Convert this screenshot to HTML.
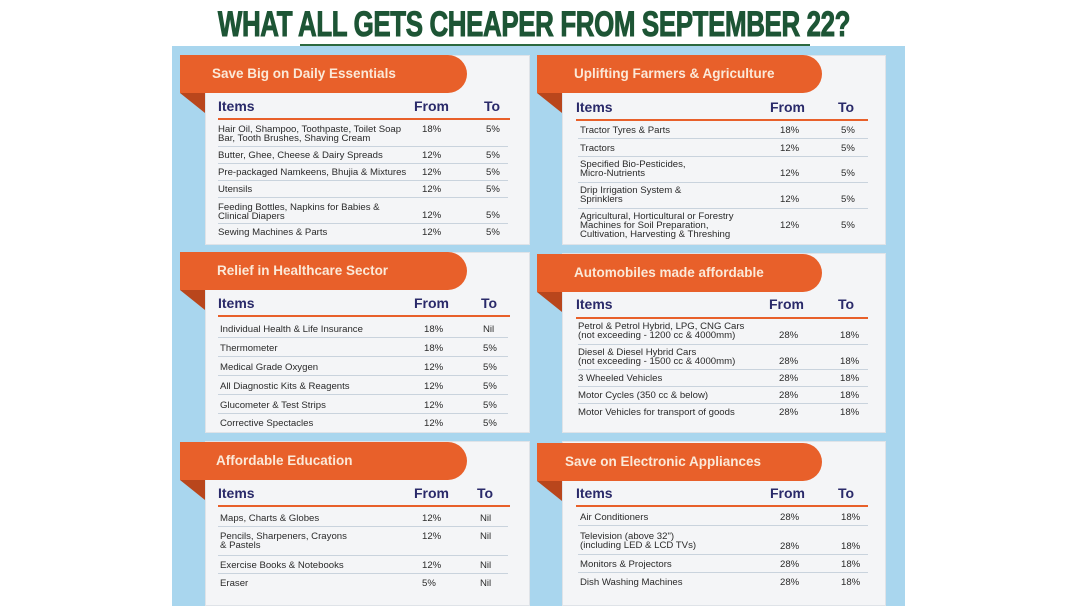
<!DOCTYPE html>
<html><head><meta charset="utf-8"><style>
*{margin:0;padding:0;box-sizing:border-box}
body{width:1068px;height:601px;background:#fff;position:relative;overflow:hidden;font-family:"Liberation Sans",sans-serif}
.a{position:absolute;white-space:nowrap}
#title{left:534px;top:5px;font-size:35px;font-weight:bold;color:#1d5535;transform:translateX(-50%) scaleX(0.74);letter-spacing:-0.5px;-webkit-text-stroke:1px #1d5535}
.panel{position:absolute;left:172px;top:46px;width:733px;height:560px;background:#a9d6ee}
.card{position:absolute;background:#f4f5f7;border:1px solid #dfe3e8}
.tab{position:absolute;height:38px;background:#e8602a;border-radius:0 19px 19px 0;color:#fbe9d8;font-weight:bold;font-size:13.5px;line-height:38px;padding-left:32px}
.fold{position:absolute;width:0;height:0;border-top:0 solid transparent;border-right:25px solid #b9461c;border-bottom:20px solid transparent}
.h{position:absolute;font-weight:bold;font-size:14px;color:#2a2a6a}
.ln{position:absolute;height:2px;background:#e8602a}
.t{position:absolute;font-size:9.6px;color:#2a2a2a;line-height:9px;white-space:nowrap}
.sep{position:absolute;height:1px;background:#c9d3dd}
</style></head><body>
<div class="a" id="title">WHAT ALL GETS CHEAPER FROM SEPTEMBER 22?</div>
<div class="a" style="left:300px;top:44px;width:510px;height:3px;background:#2c6a40"></div>
<div class="panel"></div>

<!-- cards -->
<div class="card" style="left:205px;top:55px;width:325px;height:190px"></div>
<div class="card" style="left:205px;top:252px;width:325px;height:181px"></div>
<div class="card" style="left:205px;top:441px;width:325px;height:165px"></div>
<div class="card" style="left:562px;top:55px;width:324px;height:190px"></div>
<div class="card" style="left:562px;top:253px;width:324px;height:180px"></div>
<div class="card" style="left:562px;top:441px;width:324px;height:165px"></div>

<!-- tabs -->
<div class="fold" style="left:180px;top:93px"></div>
<div class="tab" style="left:180px;top:55px;width:287px">Save Big on Daily Essentials</div>
<div class="fold" style="left:180px;top:290px"></div>
<div class="tab" style="left:180px;top:252px;width:287px;padding-left:37px">Relief in Healthcare Sector</div>
<div class="fold" style="left:180px;top:480px"></div>
<div class="tab" style="left:180px;top:442px;width:287px;padding-left:36px">Affordable Education</div>
<div class="fold" style="left:537px;top:93px"></div>
<div class="tab" style="left:537px;top:55px;width:285px;padding-left:37px">Uplifting Farmers &amp; Agriculture</div>
<div class="fold" style="left:537px;top:292px"></div>
<div class="tab" style="left:537px;top:254px;width:285px;padding-left:37px">Automobiles made affordable</div>
<div class="fold" style="left:537px;top:481px"></div>
<div class="tab" style="left:537px;top:443px;width:285px;padding-left:28px">Save on Electronic Appliances</div>

<!-- headers -->
<div class="h" style="left:218px;top:98px">Items</div><div class="h" style="left:414px;top:98px">From</div><div class="h" style="left:484px;top:98px">To</div>
<div class="ln" style="left:218px;top:118px;width:292px"></div>
<div class="h" style="left:218px;top:295px">Items</div><div class="h" style="left:414px;top:295px">From</div><div class="h" style="left:481px;top:295px">To</div>
<div class="ln" style="left:218px;top:315px;width:292px"></div>
<div class="h" style="left:218px;top:485px">Items</div><div class="h" style="left:414px;top:485px">From</div><div class="h" style="left:477px;top:485px">To</div>
<div class="ln" style="left:218px;top:505px;width:292px"></div>
<div class="h" style="left:576px;top:99px">Items</div><div class="h" style="left:770px;top:99px">From</div><div class="h" style="left:838px;top:99px">To</div>
<div class="ln" style="left:576px;top:119px;width:292px"></div>
<div class="h" style="left:576px;top:296px">Items</div><div class="h" style="left:769px;top:296px">From</div><div class="h" style="left:838px;top:296px">To</div>
<div class="ln" style="left:576px;top:317px;width:292px"></div>
<div class="h" style="left:576px;top:485px">Items</div><div class="h" style="left:770px;top:485px">From</div><div class="h" style="left:838px;top:485px">To</div>
<div class="ln" style="left:576px;top:505px;width:292px"></div>

<!-- card 1 rows -->
<div class="t" style="left:218px;top:125px">Hair Oil, Shampoo, Toothpaste, Toilet Soap<br>Bar, Tooth Brushes, Shaving Cream</div>
<div class="t" style="left:422px;top:125px">18%</div><div class="t" style="left:486px;top:125px">5%</div>
<div class="sep" style="left:218px;top:146px;width:290px"></div>
<div class="t" style="left:218px;top:151px">Butter, Ghee, Cheese &amp; Dairy Spreads</div><div class="t" style="left:422px;top:151px">12%</div><div class="t" style="left:486px;top:151px">5%</div>
<div class="sep" style="left:218px;top:163px;width:290px"></div>
<div class="t" style="left:218px;top:168px">Pre-packaged Namkeens, Bhujia &amp; Mixtures</div><div class="t" style="left:422px;top:168px">12%</div><div class="t" style="left:486px;top:168px">5%</div>
<div class="sep" style="left:218px;top:180px;width:290px"></div>
<div class="t" style="left:218px;top:185px">Utensils</div><div class="t" style="left:422px;top:185px">12%</div><div class="t" style="left:486px;top:185px">5%</div>
<div class="sep" style="left:218px;top:197px;width:290px"></div>
<div class="t" style="left:218px;top:203px">Feeding Bottles, Napkins for Babies &amp;<br>Clinical Diapers</div><div class="t" style="left:422px;top:211px">12%</div><div class="t" style="left:486px;top:211px">5%</div>
<div class="sep" style="left:218px;top:223px;width:290px"></div>
<div class="t" style="left:218px;top:228px">Sewing Machines &amp; Parts</div><div class="t" style="left:422px;top:228px">12%</div><div class="t" style="left:486px;top:228px">5%</div>

<!-- card 2 rows -->
<div class="t" style="left:220px;top:325px">Individual Health &amp; Life Insurance</div><div class="t" style="left:424px;top:325px">18%</div><div class="t" style="left:483px;top:325px">Nil</div>
<div class="sep" style="left:218px;top:337px;width:290px"></div>
<div class="t" style="left:220px;top:344px">Thermometer</div><div class="t" style="left:424px;top:344px">18%</div><div class="t" style="left:483px;top:344px">5%</div>
<div class="sep" style="left:218px;top:356px;width:290px"></div>
<div class="t" style="left:220px;top:363px">Medical Grade Oxygen</div><div class="t" style="left:424px;top:363px">12%</div><div class="t" style="left:483px;top:363px">5%</div>
<div class="sep" style="left:218px;top:375px;width:290px"></div>
<div class="t" style="left:220px;top:382px">All Diagnostic Kits &amp; Reagents</div><div class="t" style="left:424px;top:382px">12%</div><div class="t" style="left:483px;top:382px">5%</div>
<div class="sep" style="left:218px;top:394px;width:290px"></div>
<div class="t" style="left:220px;top:401px">Glucometer &amp; Test Strips</div><div class="t" style="left:424px;top:401px">12%</div><div class="t" style="left:483px;top:401px">5%</div>
<div class="sep" style="left:218px;top:413px;width:290px"></div>
<div class="t" style="left:220px;top:419px">Corrective Spectacles</div><div class="t" style="left:424px;top:419px">12%</div><div class="t" style="left:483px;top:419px">5%</div>

<!-- card 3 rows -->
<div class="t" style="left:220px;top:514px">Maps, Charts &amp; Globes</div><div class="t" style="left:422px;top:514px">12%</div><div class="t" style="left:480px;top:514px">Nil</div>
<div class="sep" style="left:218px;top:526px;width:290px"></div>
<div class="t" style="left:220px;top:532px">Pencils, Sharpeners, Crayons<br>&amp; Pastels</div><div class="t" style="left:422px;top:532px">12%</div><div class="t" style="left:480px;top:532px">Nil</div>
<div class="sep" style="left:218px;top:555px;width:290px"></div>
<div class="t" style="left:220px;top:561px">Exercise Books &amp; Notebooks</div><div class="t" style="left:422px;top:561px">12%</div><div class="t" style="left:480px;top:561px">Nil</div>
<div class="sep" style="left:218px;top:573px;width:290px"></div>
<div class="t" style="left:220px;top:579px">Eraser</div><div class="t" style="left:422px;top:579px">5%</div><div class="t" style="left:480px;top:579px">Nil</div>

<!-- right card 1 -->
<div class="t" style="left:580px;top:126px">Tractor Tyres &amp; Parts</div><div class="t" style="left:780px;top:126px">18%</div><div class="t" style="left:841px;top:126px">5%</div>
<div class="sep" style="left:578px;top:138px;width:290px"></div>
<div class="t" style="left:580px;top:144px">Tractors</div><div class="t" style="left:780px;top:144px">12%</div><div class="t" style="left:841px;top:144px">5%</div>
<div class="sep" style="left:578px;top:156px;width:290px"></div>
<div class="t" style="left:580px;top:160px">Specified Bio-Pesticides,<br>Micro-Nutrients</div><div class="t" style="left:780px;top:169px">12%</div><div class="t" style="left:841px;top:169px">5%</div>
<div class="sep" style="left:578px;top:182px;width:290px"></div>
<div class="t" style="left:580px;top:186px">Drip Irrigation System &amp;<br>Sprinklers</div><div class="t" style="left:780px;top:195px">12%</div><div class="t" style="left:841px;top:195px">5%</div>
<div class="sep" style="left:578px;top:208px;width:290px"></div>
<div class="t" style="left:580px;top:212px">Agricultural, Horticultural or Forestry<br>Machines for Soil Preparation,<br>Cultivation, Harvesting &amp; Threshing</div><div class="t" style="left:780px;top:221px">12%</div><div class="t" style="left:841px;top:221px">5%</div>

<!-- right card 2 -->
<div class="t" style="left:578px;top:322px">Petrol &amp; Petrol Hybrid, LPG, CNG Cars<br>(not exceeding - 1200 cc &amp; 4000mm)</div><div class="t" style="left:779px;top:331px">28%</div><div class="t" style="left:840px;top:331px">18%</div>
<div class="sep" style="left:578px;top:344px;width:290px"></div>
<div class="t" style="left:578px;top:348px">Diesel &amp; Diesel Hybrid Cars<br>(not exceeding - 1500 cc &amp; 4000mm)</div><div class="t" style="left:779px;top:357px">28%</div><div class="t" style="left:840px;top:357px">18%</div>
<div class="sep" style="left:578px;top:369px;width:290px"></div>
<div class="t" style="left:578px;top:374px">3 Wheeled Vehicles</div><div class="t" style="left:779px;top:374px">28%</div><div class="t" style="left:840px;top:374px">18%</div>
<div class="sep" style="left:578px;top:386px;width:290px"></div>
<div class="t" style="left:578px;top:391px">Motor Cycles (350 cc &amp; below)</div><div class="t" style="left:779px;top:391px">28%</div><div class="t" style="left:840px;top:391px">18%</div>
<div class="sep" style="left:578px;top:403px;width:290px"></div>
<div class="t" style="left:578px;top:408px">Motor Vehicles for transport of goods</div><div class="t" style="left:779px;top:408px">28%</div><div class="t" style="left:840px;top:408px">18%</div>

<!-- right card 3 -->
<div class="t" style="left:580px;top:513px">Air Conditioners</div><div class="t" style="left:780px;top:513px">28%</div><div class="t" style="left:841px;top:513px">18%</div>
<div class="sep" style="left:578px;top:525px;width:290px"></div>
<div class="t" style="left:580px;top:532px">Television (above 32")<br>(including LED &amp; LCD TVs)</div><div class="t" style="left:780px;top:542px">28%</div><div class="t" style="left:841px;top:542px">18%</div>
<div class="sep" style="left:578px;top:554px;width:290px"></div>
<div class="t" style="left:580px;top:560px">Monitors &amp; Projectors</div><div class="t" style="left:780px;top:560px">28%</div><div class="t" style="left:841px;top:560px">18%</div>
<div class="sep" style="left:578px;top:572px;width:290px"></div>
<div class="t" style="left:580px;top:578px">Dish Washing Machines</div><div class="t" style="left:780px;top:578px">28%</div><div class="t" style="left:841px;top:578px">18%</div>
</body></html>
